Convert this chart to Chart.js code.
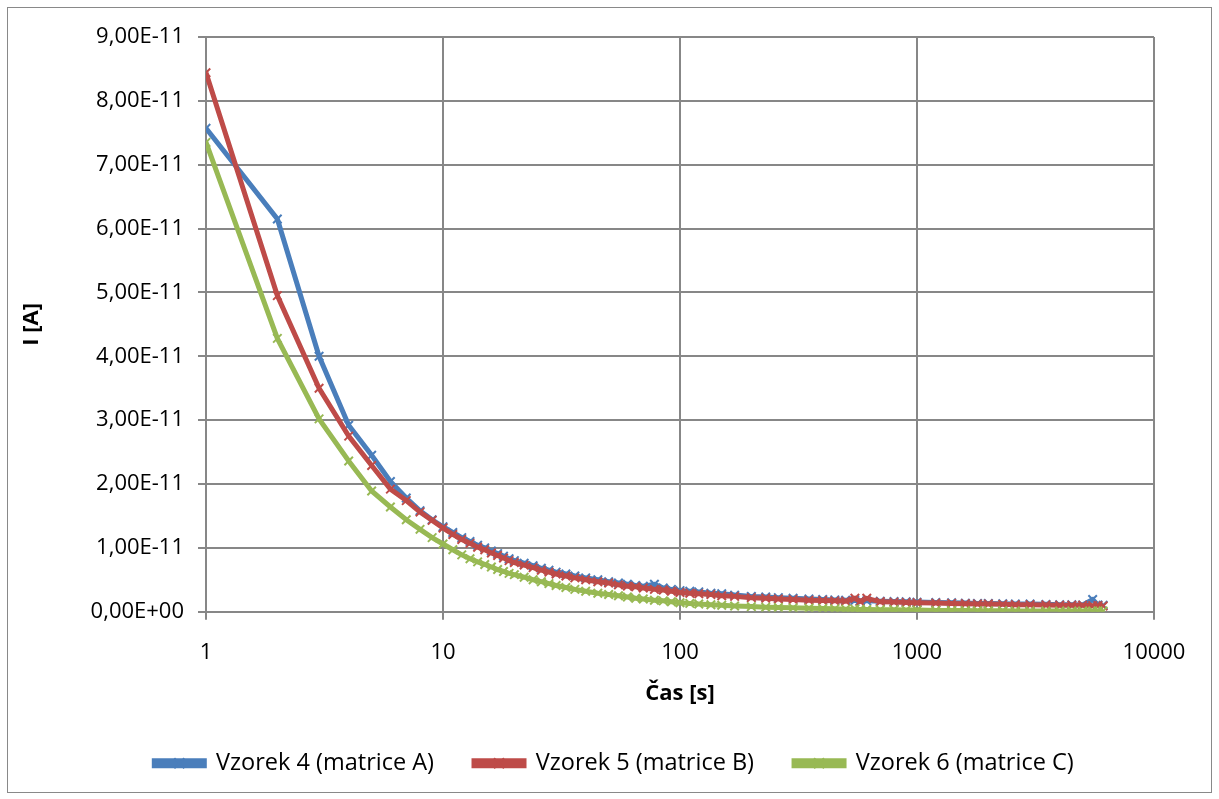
<!DOCTYPE html>
<html>
<head>
<meta charset="utf-8">
<title>Vzorek 4-6</title>
<script src="https://cdn.jsdelivr.net/npm/chart.js@4.4.1/dist/chart.umd.min.js"></script>
<style>
  html, body { margin: 0; padding: 0; background: #fff; }
  #wrap { position: relative; width: 1219px; height: 799px; }
  #frame { position: absolute; left: 7px; top: 7px; width: 1203px; height: 784px; border: 1px solid #898989; pointer-events: none; }
  canvas { position: absolute; left: 0; top: 0; }
</style>
</head>
<body>
<div id="wrap">
  <canvas id="chart" width="1219" height="799"></canvas>
  <div id="frame"></div>
</div>
<script>
// Data (I in units of 1e-11 A)
const casS = [1, 2, 3, 4, 5, 6, 7, 8, 9, 10, 11, 12, 13, 14, 15, 16, 17, 18, 19, 20,
  22, 24, 26, 28, 30, 33, 36, 40, 45, 50, 55, 60, 65, 70, 78, 85, 92, 100, 110, 120,
  135, 150, 170, 200, 230, 260, 300, 350, 400, 450, 500, 547, 575, 614, 700, 800, 900, 1000, 1200, 1400,
  1600, 1800, 2000, 2300, 2600, 3000, 3500, 4000, 4500, 5000, 5510, 5800, 6100]

const vzorek4 = [7.57, 6.15, 4.00, 2.92, 2.45, 2.04, 1.78, 1.58, 1.44, 1.33, 1.24, 1.16, 1.10, 1.04, 1.00, 0.95, 0.91, 0.87, 0.83, 0.80,
  0.76, 0.72, 0.68, 0.65, 0.62, 0.59, 0.56, 0.53, 0.50, 0.47, 0.45, 0.43, 0.41, 0.40, 0.43, 0.37, 0.35, 0.33, 0.32, 0.31,
  0.29, 0.28, 0.26, 0.24, 0.23, 0.22, 0.21, 0.20, 0.19, 0.185, 0.18, 0.175, 0.17, 0.17, 0.165, 0.16, 0.155, 0.15, 0.145, 0.14,
  0.135, 0.13, 0.13, 0.125, 0.12, 0.12, 0.115, 0.11, 0.11, 0.105, 0.19, 0.105, 0.10]

const vzorek5 = [8.44, 4.95, 3.50, 2.75, 2.29, 1.92, 1.74, 1.56, 1.43, 1.31, 1.21, 1.13, 1.07, 1.01, 0.97, 0.92, 0.88, 0.84, 0.80, 0.77,
  0.73, 0.69, 0.65, 0.62, 0.59, 0.56, 0.53, 0.50, 0.47, 0.45, 0.42, 0.40, 0.39, 0.37, 0.35, 0.34, 0.32, 0.30, 0.29, 0.28,
  0.27, 0.25, 0.24, 0.22, 0.21, 0.20, 0.19, 0.18, 0.175, 0.17, 0.165, 0.21, 0.16, 0.21, 0.155, 0.15, 0.145, 0.14, 0.135, 0.13,
  0.125, 0.12, 0.12, 0.115, 0.11, 0.11, 0.105, 0.10, 0.10, 0.10, 0.095, 0.095, 0.09]

const vzorek6 = [7.35, 4.28, 3.02, 2.36, 1.89, 1.64, 1.44, 1.29, 1.16, 1.06, 0.97, 0.89, 0.83, 0.78, 0.74, 0.70, 0.66, 0.63, 0.60, 0.58,
  0.54, 0.50, 0.47, 0.44, 0.41, 0.38, 0.35, 0.32, 0.29, 0.27, 0.25, 0.23, 0.21, 0.20, 0.18, 0.17, 0.155, 0.14, 0.13, 0.12,
  0.11, 0.10, 0.09, 0.08, 0.07, 0.065, 0.06, 0.055, 0.05, 0.045, 0.04, 0.04, 0.035, 0.035, 0.03, 0.03, 0.025, 0.025, 0.02, 0.02,
  0.02, 0.015, 0.015, 0.015, 0.01, 0.01, 0.01, 0.01, 0.01, 0.01, 0.01, 0.01, 0.01]

const seriesNames = ["Vzorek 4 (matrice A)", "Vzorek 5 (matrice B)", "Vzorek 6 (matrice C)"]
const seriesColors = ["#4A7EBB", "#BE4B48", "#98B954"]

const xTicks = [1, 10, 100, 1000, 10000]
const xTickLabels = ["1", "10", "100", "1000", "10000"]
const yTickLabels = ["0,00E+00", "1,00E-11", "2,00E-11", "3,00E-11", "4,00E-11",
  "5,00E-11", "6,00E-11", "7,00E-11", "8,00E-11", "9,00E-11"]
const UNIT = 1e-11

const gridColor = "#878787"

// legend: draw the x marker on the line sample
const legendMarks = {
  id: "legendMarks",
  afterDraw(chart) {
    const lg = chart.legend
    if (!lg || !lg.legendHitBoxes) return
    const ctx = chart.ctx
    const bw = lg.options.labels.boxWidth
    const bh = lg.options.labels.boxHeight
    const fs = lg.options.labels.font.size
    lg.legendItems.forEach((item, i) => {
      const hb = lg.legendHitBoxes[i]
      const cx = hb.left + bw / 2
      const cy = hb.top + Math.max((fs - bh) / 2, 0) + bh / 2
      ctx.save()
      ctx.strokeStyle = item.strokeStyle
      ctx.lineWidth = 2
      ctx.beginPath()
      ctx.moveTo(cx - 5, cy - 5); ctx.lineTo(cx + 5, cy + 5)
      ctx.moveTo(cx + 5, cy - 5); ctx.lineTo(cx - 5, cy + 5)
      ctx.stroke()
      ctx.restore()
    })
  }
}

function makeDataset(i, values) {
  return {
    label: seriesNames[i],
    data: casS.map((t, k) => ({ x: t, y: values[k] * UNIT })),
    borderColor: seriesColors[i],
    backgroundColor: seriesColors[i],
    borderWidth: 5,
    pointStyle: "crossRot",
    pointRadius: 6,
    pointBorderWidth: 2,
    pointHoverRadius: 6,
    tension: 0,
    order: 3 - i   // later series drawn on top, like Excel
  }
}

Chart.defaults.font.family = "'Open Sans', sans-serif"
Chart.defaults.color = "#000"

new Chart(document.getElementById("chart"), {
  type: "line",
  data: {
    datasets: [
      makeDataset(0, vzorek4),
      makeDataset(1, vzorek5),
      makeDataset(2, vzorek6)
    ]
  },
  options: {
    responsive: false,
    animation: false,
    // left padding keeps the legend centred under the plot like in Excel
    layout: { padding: { left: 74, right: 65, top: 37, bottom: 14 } },
    plugins: {
      tooltip: { enabled: false },
      legend: {
        position: "bottom",
        labels: {
          font: { size: 23.5 },
          boxWidth: 50,
          boxHeight: 5,
          padding: 40,
          sort: (a, b) => a.datasetIndex - b.datasetIndex
        }
      }
    },
    scales: {
      x: {
        type: "logarithmic",
        min: 1,
        max: 10000,
        afterBuildTicks: (s) => { s.ticks = xTicks.map(v => ({ value: v, major: true })) },
        afterFit: (s) => { s.height -= 10 },
        ticks: {
          autoSkip: false,
          maxRotation: 0,
          padding: 20,
          font: { size: 22 },
          callback: (v) => xTickLabels[xTicks.indexOf(v)]
        },
        grid: { color: gridColor, lineWidth: 2, tickLength: 8, drawTicks: true },
        border: { color: gridColor, width: 2 },
        title: {
          display: true,
          text: "Čas [s]",
          font: { size: 22, weight: "bold" },
          padding: { top: 4, bottom: 5 }
        }
      },
      y: {
        type: "linear",
        min: 0,
        max: 9 * UNIT,
        afterBuildTicks: (s) => { s.ticks = yTickLabels.map((_, i) => ({ value: i * UNIT })) },
        afterFit: (s) => { s.width = 132 },
        ticks: {
          padding: 14,
          font: { size: 22 },
          callback: (v, i) => yTickLabels[i]
        },
        grid: { color: gridColor, lineWidth: 2, tickLength: 8 },
        border: { color: gridColor, width: 2 },
        title: {
          display: true,
          text: "I [A]",
          font: { size: 22, weight: "bold" },
          padding: { top: -55, bottom: 0 }
        }
      }
    }
  },
  plugins: [legendMarks]
})
</script>
</body>
</html>
